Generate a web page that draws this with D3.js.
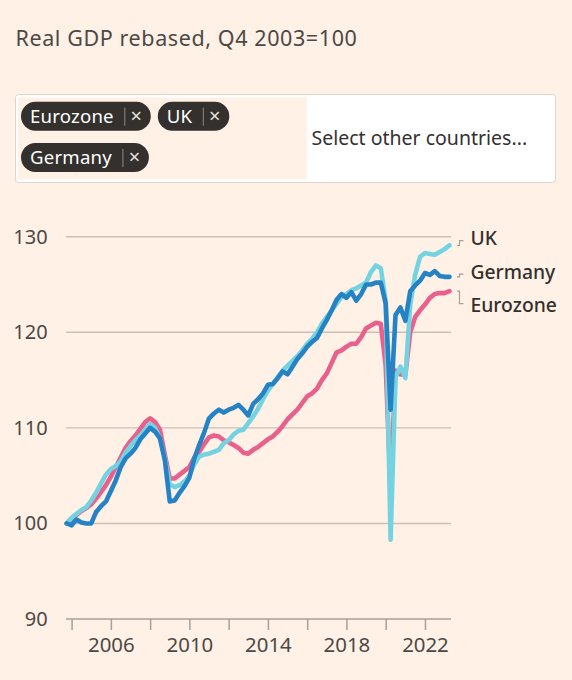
<!DOCTYPE html>
<html>
<head>
<meta charset="utf-8">
<script src="https://cdn.jsdelivr.net/npm/d3@7"></script>
<style>
  html, body { margin: 0; padding: 0; background: #fff1e5; }
  svg { display: block; }
  svg text { font-family: "Noto Sans", sans-serif; }
</style>
</head>
<body>
<svg id="chart"></svg>
<script>
// Quarterly real GDP, Q4 2003 = 100
const quarters = [
  "2003 Q4",
  "2004 Q1", "2004 Q2", "2004 Q3", "2004 Q4",
  "2005 Q1", "2005 Q2", "2005 Q3", "2005 Q4",
  "2006 Q1", "2006 Q2", "2006 Q3", "2006 Q4",
  "2007 Q1", "2007 Q2", "2007 Q3", "2007 Q4",
  "2008 Q1", "2008 Q2", "2008 Q3", "2008 Q4",
  "2009 Q1", "2009 Q2", "2009 Q3", "2009 Q4",
  "2010 Q1", "2010 Q2", "2010 Q3", "2010 Q4",
  "2011 Q1", "2011 Q2", "2011 Q3", "2011 Q4",
  "2012 Q1", "2012 Q2", "2012 Q3", "2012 Q4",
  "2013 Q1", "2013 Q2", "2013 Q3", "2013 Q4",
  "2014 Q1", "2014 Q2", "2014 Q3", "2014 Q4",
  "2015 Q1", "2015 Q2", "2015 Q3", "2015 Q4",
  "2016 Q1", "2016 Q2", "2016 Q3", "2016 Q4",
  "2017 Q1", "2017 Q2", "2017 Q3", "2017 Q4",
  "2018 Q1", "2018 Q2", "2018 Q3", "2018 Q4",
  "2019 Q1", "2019 Q2", "2019 Q3", "2019 Q4",
  "2020 Q1", "2020 Q2", "2020 Q3", "2020 Q4",
  "2021 Q1", "2021 Q2", "2021 Q3", "2021 Q4",
  "2022 Q1", "2022 Q2", "2022 Q3", "2022 Q4",
  "2023 Q1", "2023 Q2"
];

const eurozone = [
  100.0,
  100.5, 100.9, 101.3, 101.6,
  102.0, 102.6, 103.3, 104.0,
  104.9, 105.9, 106.9, 107.9,
  108.6, 109.2, 109.9, 110.6,
  111.0, 110.6, 109.8, 107.2,
  104.7, 104.7, 105.1, 105.5,
  105.9, 106.9, 107.5, 108.3,
  109.0, 109.2, 109.1, 108.7,
  108.5, 108.2, 107.9, 107.4,
  107.3, 107.7, 108.0, 108.4,
  108.8, 109.1, 109.6, 110.2,
  110.9, 111.4, 111.9, 112.6,
  113.3, 113.6, 114.1, 115.0,
  115.7, 116.8, 117.9, 118.1,
  118.5, 118.8, 118.8, 119.5,
  120.4, 120.7, 121.0, 120.9,
  116.5, 103.5, 116.0, 115.6,
  115.5, 120.0, 121.6, 122.3,
  122.9, 123.6, 124.0, 124.1,
  124.1, 124.3
];

const uk = [
  100.0,
  100.6, 101.0, 101.4, 101.7,
  102.4, 103.2, 104.2, 105.1,
  105.7, 106.0, 106.5, 107.4,
  108.1, 108.7, 109.2, 109.8,
  110.4, 110.0, 108.9, 106.8,
  104.1, 103.8, 104.0, 104.4,
  105.0, 106.2, 107.0, 107.2,
  107.3, 107.5, 107.7, 108.4,
  108.7, 109.3, 109.7, 109.8,
  110.5, 111.2, 112.0, 113.0,
  113.9, 114.6, 115.3, 116.0,
  116.5, 117.0, 117.5, 118.1,
  118.8, 119.3, 120.0, 120.9,
  121.6, 122.3, 123.0, 123.7,
  124.0, 124.4, 124.6, 124.9,
  125.2, 126.3, 127.0, 126.7,
  123.3, 98.3, 115.3, 116.4,
  115.2, 122.9, 126.0, 127.9,
  128.3, 128.2, 128.1, 128.4,
  128.7, 129.1
];

const germany = [
  100.0,
  99.8, 100.4, 100.1, 100.0,
  100.0, 101.2, 101.8, 102.3,
  103.4, 104.5, 105.9, 106.8,
  107.3, 107.9, 108.8, 109.4,
  110.0, 109.6, 108.9, 106.6,
  102.3, 102.4, 103.2, 103.9,
  104.8, 106.8, 108.2, 109.5,
  111.0, 111.5, 111.9, 111.6,
  111.9, 112.1, 112.4, 111.9,
  111.3, 112.5, 113.0, 113.6,
  114.5, 114.6, 115.2, 115.9,
  115.6, 116.4, 117.2, 117.8,
  118.5, 119.0, 119.4, 120.4,
  121.3, 122.3, 123.4, 124.0,
  123.6, 124.2, 123.3, 124.0,
  125.0, 125.0, 125.2, 125.2,
  123.0, 111.9, 121.8, 122.6,
  121.2, 124.3, 124.9, 125.4,
  126.2, 126.0, 126.4, 125.9,
  125.8, 125.8
];

const seriesNames  = ["Eurozone", "UK", "Germany"];
const seriesValues = [eurozone, uk, germany];
const seriesColors = ["#e9608c", "#74d3e0", "#2583c5"];

const yTicks  = [90, 100, 110, 120, 130];
const xTicks  = [2004, 2006, 2008, 2010, 2012, 2014, 2016, 2018, 2020, 2022];
const xLabels = [2006, 2010, 2014, 2018, 2022];

const titleText  = "Real GDP rebased, Q4 2003=100";
const selectText = "Select other countries...";

drawChart();

function drawChart() {
  let width      = 572,
      height     = 680,
      ink        = "#33302e",
      muted      = "#4d4845",
      lineGrey   = "#a89f97",
      gridGrey   = "#cbc0b6",
      plotLeft   = 66.7,
      plotRight  = 449.5,
      axisRight  = 451,
      times      = quarters.map(q => +q.slice(0, 4) + (+q.slice(-1) - 1) / 4),
      x          = d3.scaleLinear().domain(d3.extent(times)).range([plotLeft, plotRight]),
      y          = d3.scaleLinear().domain([90, 130]).range([619, 236.7]),
      svg        = d3.select("#chart").attr("width", width).attr("height", height);

  // Title
  svg.append("text")
    .attr("x", 15.5)
    .attr("y", 45.5)
    .attr("fill", muted)
    .style("font-size", "21.5px")
    .style("letter-spacing", "0.6px")
    .text(titleText);

  // Country picker box
  let picker = svg.append("g");

  picker.append("rect")
    .attr("x", 15.5).attr("y", 94.5)
    .attr("width", 540).attr("height", 88)
    .attr("rx", 3)
    .attr("fill", "#fff")
    .attr("stroke", "#ddd5cd");

  picker.append("rect")
    .attr("x", 18).attr("y", 97.5)
    .attr("width", 289).attr("height", 82)
    .attr("fill", "#fff1e5");

  picker.append("text")
    .attr("x", 311.5)
    .attr("y", 145)
    .attr("fill", ink)
    .style("font-size", "19.5px")
    .text(selectText);

  // Pills flow left to right and wrap
  let pillX = 21, pillY = 101.7, pillH = 29, pillMaxX = 300;

  seriesNames.forEach(name => {
    let g = picker.append("g");
    let label = g.append("text")
      .attr("y", pillH / 2 + 6.8)
      .attr("x", 9)
      .attr("fill", "#fff")
      .style("font-size", "18.6px")
      .style("letter-spacing", "0.2px")
      .text(name);

    let textW = label.node().getComputedTextLength(),
        divX  = 9 + textW + 11,
        pillW = divX + 26;

    if (pillX + pillW > pillMaxX) {
      pillX = 21;
      pillY += 41.3;
    }

    g.attr("transform", "translate(" + pillX + "," + pillY + ")");

    g.insert("rect", "text")
      .attr("width", pillW).attr("height", pillH)
      .attr("rx", pillH / 2)
      .attr("fill", ink);

    g.append("line")
      .attr("x1", divX).attr("x2", divX)
      .attr("y1", 6).attr("y2", pillH - 5)
      .attr("stroke", "#8f8984")
      .attr("stroke-width", 1);

    g.append("text")
      .attr("x", divX + 11.5)
      .attr("y", pillH / 2 + 6.5)
      .attr("text-anchor", "middle")
      .attr("fill", "#e6e1dc")
      .style("font-size", "20px")
      .text("\u00d7");

    pillX += pillW + 7;
  });

  // Gridlines and y labels
  let grid = svg.append("g");

  grid.selectAll("line")
    .data(yTicks.filter(v => v > y.domain()[0]))
    .enter().append("line")
    .attr("x1", 66).attr("x2", axisRight)
    .attr("y1", d => y(d)).attr("y2", d => y(d))
    .attr("stroke", gridGrey)
    .attr("stroke-width", 1.4);

  grid.selectAll("text")
    .data(yTicks)
    .enter().append("text")
    .attr("x", 47.7)
    .attr("y", d => y(d))
    .attr("dy", "0.35em")
    .attr("text-anchor", "end")
    .attr("fill", muted)
    .style("font-size", "20px")
    .text(d => d);

  // X axis
  let xAxis = d3.axisBottom(x)
    .tickValues(xTicks)
    .tickSize(11)
    .tickSizeOuter(0)
    .tickPadding(8)
    .tickFormat(d => xLabels.includes(d) ? d : "");

  let axisG = svg.append("g")
    .attr("transform", "translate(0," + y(90) + ")")
    .call(xAxis);

  axisG.select(".domain")
    .attr("d", "M66,0H" + axisRight)
    .attr("stroke", lineGrey)
    .attr("stroke-width", 1.6);

  axisG.selectAll(".tick line")
    .attr("stroke", lineGrey)
    .attr("stroke-width", 1.5);

  axisG.selectAll(".tick text")
    .attr("fill", muted)
    .style("font-size", "20.4px")
    .style("font-family", "'Noto Sans', sans-serif");

  // Lines
  let line = d3.line()
    .x((d, i) => x(times[i]))
    .y(d => y(d));

  svg.append("g")
    .selectAll("path")
    .data(seriesValues)
    .enter().append("path")
    .attr("d", d => line(d))
    .attr("fill", "none")
    .attr("stroke", (d, i) => seriesColors[i])
    .attr("stroke-width", 4.6)
    .attr("stroke-linejoin", "round")
    .attr("stroke-linecap", "round");

  // End labels, spread apart so they don't collide
  let labelGap = 33.5,
      ends     = seriesNames.map((name, i) => ({
        name: name,
        endY: y(seriesValues[i][seriesValues[i].length - 1])
      })).sort((a, b) => a.endY - b.endY),
      midY     = d3.mean(ends, d => d.endY) + 1;

  ends.forEach((d, i) => { d.labelY = midY + (i - (ends.length - 1) / 2) * labelGap; });

  let labels = svg.append("g");

  labels.selectAll("path")
    .data(ends)
    .enter().append("path")
    .attr("d", d => "M457," + d.endY + "H459.5V" + (d.labelY + (d.labelY < d.endY ? 2 : -2)) + "H463.5")
    .attr("fill", "none")
    .attr("stroke", lineGrey)
    .attr("stroke-width", 1.2);

  labels.selectAll("text")
    .data(ends)
    .enter().append("text")
    .attr("x", 470.5)
    .attr("y", d => d.labelY)
    .attr("dy", "0.35em")
    .attr("fill", ink)
    .style("font-size", "19.3px")
    .style("font-weight", 500)
    .text(d => d.name);
}
</script>
</body>
</html>
